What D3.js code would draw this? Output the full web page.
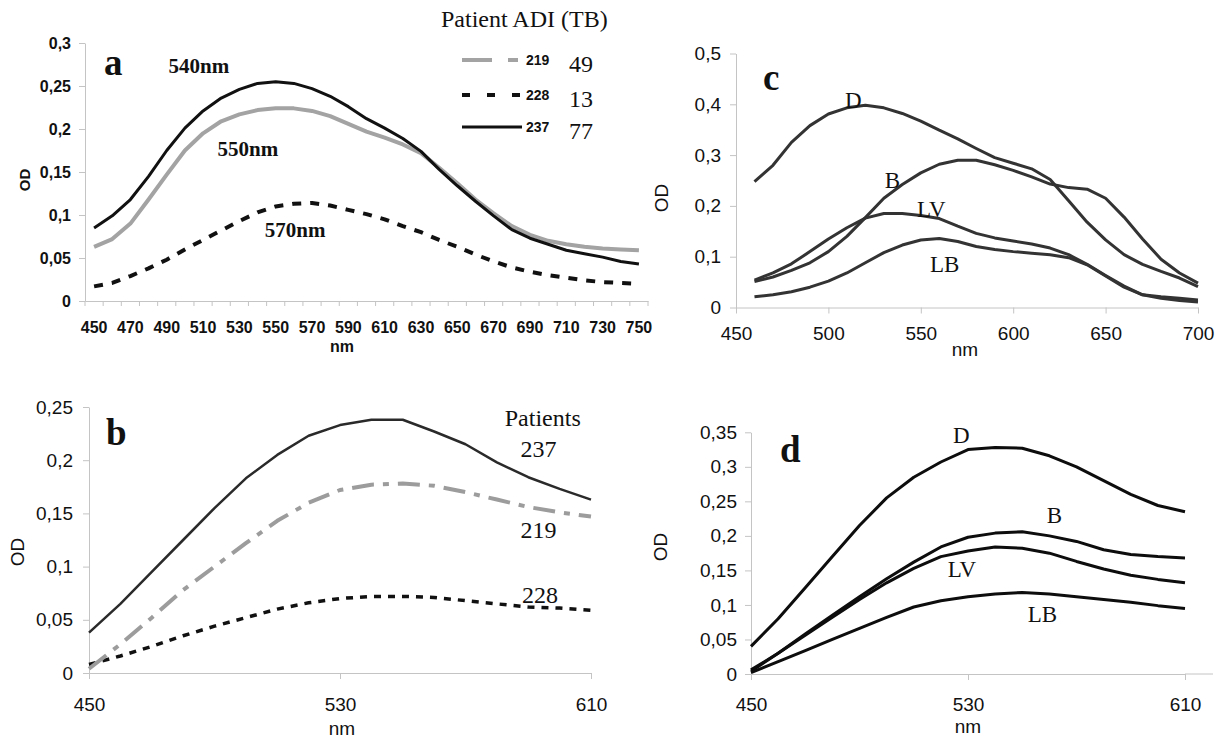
<!DOCTYPE html>
<html>
<head>
<meta charset="utf-8">
<style>
  body { margin: 0; background: #fff; }
</style>
</head>
<body>
<script src="https://cdn.jsdelivr.net/npm/d3@7"></script>
<script>
// ---- panel a : patients, 450-750 nm, every 10 nm
var nmA   = [450,460,470,480,490,500,510,520,530,540,550,560,570,580,590,600,610,620,630,640,650,660,670,680,690,700,710,720,730,740,750];
var a237  = [.085,.099,.118,.145,.175,.201,.221,.236,.246,.253,.255,.253,.247,.238,.226,.212,.201,.189,.174,.153,.134,.116,.099,.083,.073,.066,.059,.055,.051,.046,.043];
var a219  = [.063,.072,.090,.118,.147,.175,.195,.209,.217,.222,.224,.224,.221,.215,.206,.197,.190,.182,.172,.155,.137,.118,.102,.087,.077,.070,.066,.063,.061,.060,.059];
var a228  = [.017,.021,.029,.038,.048,.060,.071,.082,.093,.103,.110,.113,.114,.111,.106,.101,.095,.087,.080,.071,.063,.054,.046,.039,.034,.030,.027,.024,.022,.021,.020];
var patients = ["219","228","237"];
var adi      = [49, 13, 77];
var peaks    = ["540nm","550nm","570nm"];

// ---- panel b : patients, 450-610 nm
var nmB  = [450,460,470,480,490,500,510,520,530,540,550,560,570,580,590,600,610];
var b237 = [.038,.065,.095,.125,.155,.183,.205,.223,.233,.238,.238,.227,.215,.198,.184,.173,.163];
var b219 = [.004,.027,.052,.078,.100,.122,.143,.160,.172,.177,.178,.176,.170,.163,.156,.151,.147];
var b228 = [.008,.016,.025,.035,.044,.052,.060,.066,.070,.072,.072,.071,.068,.065,.062,.061,.059];

// ---- panel c : tissues, 460-700 nm
var nmC  = [460,470,480,490,500,510,520,530,540,550,560,570,580,590,600,610,620,630,640,650,660,670,680,690,700];
var cD   = [.248,.280,.325,.358,.381,.393,.398,.393,.382,.367,.349,.332,.313,.295,.284,.273,.252,.210,.168,.133,.104,.085,.071,.058,.041];
var cB   = [.051,.060,.073,.088,.110,.140,.177,.215,.242,.265,.282,.290,.290,.281,.270,.257,.243,.236,.233,.215,.178,.135,.095,.068,.048];
var cLV  = [.054,.068,.086,.110,.135,.157,.176,.185,.185,.181,.175,.160,.146,.137,.131,.125,.117,.104,.085,.063,.042,.025,.021,.018,.015];
var cLB  = [.021,.025,.031,.040,.052,.068,.088,.108,.123,.133,.136,.130,.120,.114,.110,.107,.104,.098,.084,.062,.040,.025,.018,.014,.011];

// ---- panel d : tissues, 450-610 nm
var nmD  = [450,460,470,480,490,500,510,520,530,540,550,560,570,580,590,600,610];
var dD   = [.040,.080,.125,.170,.215,.255,.285,.307,.325,.328,.327,.316,.300,.280,.260,.244,.235];
var dB   = [.004,.030,.058,.085,.112,.138,.162,.184,.198,.204,.206,.200,.192,.180,.173,.170,.168];
var dLV  = [.006,.030,.056,.082,.108,.132,.153,.170,.178,.184,.182,.175,.163,.152,.143,.137,.132];
var dLB  = [.002,.018,.034,.050,.066,.082,.097,.106,.112,.116,.118,.116,.112,.108,.104,.099,.095];
var tissues = ["D","B","LV","LB"];

var SANS = "'Liberation Sans', Arial, sans-serif";
var SERIF = "'Liberation Serif', 'Times New Roman', serif";
var AX = "#c4c4c4";

var fmt = d3.formatLocale({decimal: ",", thousands: " ", grouping: [3], currency: ["", ""]}).format("~g");

var svg = d3.select("body").append("svg")
    .attr("width", 1226)
    .attr("height", 746)
    .style("background", "#fff");

function styleAxis(g, size, weight) {
  g.select(".domain").attr("stroke", AX);
  g.selectAll(".tick line").attr("stroke", AX);
  g.selectAll(".tick text")
    .attr("font-family", SANS)
    .attr("font-size", size)
    .attr("font-weight", weight)
    .attr("fill", "#111");
}

function txt(x, y, s, font, size, weight, anchor) {
  return svg.append("text")
    .attr("x", x).attr("y", y)
    .attr("font-family", font)
    .attr("font-size", size)
    .attr("font-weight", weight || "normal")
    .attr("text-anchor", anchor || "start")
    .attr("fill", "#111")
    .text(s);
}

function yTitle(x, y, size, weight) {
  svg.append("text")
    .attr("transform", "translate(" + x + "," + y + ") rotate(-90)")
    .attr("dy", "0.35em")
    .attr("text-anchor", "middle")
    .attr("font-family", SANS)
    .attr("font-size", size)
    .attr("font-weight", weight)
    .attr("fill", "#111")
    .text("OD");
}

function drawLine(xs, ys, x, y, stroke, width, dash) {
  var line = d3.line().x(function(d, i) { return x(xs[i]); }).y(function(d) { return y(d); });
  svg.append("path")
    .datum(ys)
    .attr("fill", "none")
    .attr("stroke", stroke)
    .attr("stroke-width", width)
    .attr("stroke-linejoin", "round")
    .attr("stroke-dasharray", dash || null)
    .attr("d", line);
}

// ================= panel a =================
var xa = d3.scaleBand().domain(nmA).range([85, 648]);
var xaMid = function(d) { return xa(d) + xa.bandwidth() / 2; };
var xaLin = d3.scaleLinear().domain([450, 750]).range([xaMid(450), xaMid(750)]);
var ya = d3.scaleLinear().domain([0, 0.3]).range([301, 43]);

svg.append("g").attr("transform", "translate(85,0)")
  .call(d3.axisLeft(ya).tickValues([0, .05, .1, .15, .2, .25, .3]).tickSize(6).tickSizeOuter(0).tickPadding(8).tickFormat(fmt))
  .call(styleAxis, 16, "bold");

svg.append("g").attr("transform", "translate(0,301)")
  .call(d3.axisBottom(xa).tickSize(0).tickPadding(21)
        .tickFormat(function(d) { return (d - 450) % 20 === 0 ? d : ""; }))
  .call(styleAxis, 16, "bold");

svg.append("g").selectAll("line")
  .data(nmA.map(function(d) { return xa(d); }).concat([xa.range()[1]]))
  .join("line")
  .attr("x1", function(d) { return d; }).attr("x2", function(d) { return d; })
  .attr("y1", 301).attr("y2", 306)
  .attr("stroke", AX);

drawLine(nmA, a219, xaMid, ya, "#a3a3a3", 4);
drawLine(nmA, a228, xaMid, ya, "#111", 4, "9,9");
drawLine(nmA, a237, xaMid, ya, "#111", 3);

yTitle(25, 180, 15, "bold");
txt(342, 352, "nm", SANS, 16, "bold", "middle");
txt(104, 75, "a", SERIF, 37, "bold");

txt(xaLin(491), ya(0.265), peaks[0], SERIF, 21, "bold");
txt(xaLin(518), ya(0.169), peaks[1], SERIF, 21, "bold");
txt(xaLin(544), ya(0.074), peaks[2], SERIF, 21, "bold");

// legend
txt(441, 27, "Patient ADI (TB)", SERIF, 24, "normal");
var legStyle = [
  {stroke: "#a3a3a3", w: 4, dash: "30,16,10"},
  {stroke: "#111", w: 4, dash: "8,17"},
  {stroke: "#111", w: 3, dash: null}
];
var legY = [60, 95, 127];
patients.forEach(function(p, i) {
  svg.append("line")
    .attr("x1", 462).attr("x2", 522).attr("y1", legY[i]).attr("y2", legY[i])
    .attr("stroke", legStyle[i].stroke).attr("stroke-width", legStyle[i].w)
    .attr("stroke-dasharray", legStyle[i].dash);
  txt(526, legY[i] + 5, p, SANS, 14, "bold");
  txt(569, legY[i] + 12, adi[i], SERIF, 24, "normal");
});

// ================= panel b =================
var xb = d3.scaleLinear().domain([450, 610]).range([89, 591]);
var yb = d3.scaleLinear().domain([0, 0.25]).range([673, 407]);

svg.append("g").attr("transform", "translate(89,0)")
  .call(d3.axisLeft(yb).tickValues([0, .05, .1, .15, .2, .25]).tickSize(6).tickSizeOuter(0).tickPadding(10).tickFormat(fmt))
  .call(styleAxis, 19, "normal");
svg.append("g").attr("transform", "translate(0,673)")
  .call(d3.axisBottom(xb).tickValues([450, 530, 610]).tickSize(6).tickSizeOuter(0).tickPadding(19).tickFormat(d3.format("d")))
  .call(styleAxis, 19, "normal");

drawLine(nmB, b228, xb, yb, "#111", 3.5, "7,7");
drawLine(nmB, b219, xb, yb, "#9c9c9c", 4, "22,9,6,9");
drawLine(nmB, b237, xb, yb, "#2a2a2a", 2.5);

yTitle(17, 552, 19, "normal");
txt(342, 735, "nm", SANS, 19, "normal", "middle");
txt(106, 445, "b", SERIF, 37, "bold");
txt(xb(582.5), yb(0.232), "Patients", SERIF, 24, "normal");
txt(xb(587.5), yb(0.203), patients[2], SERIF, 24, "normal");
txt(xb(587.5), yb(0.127), patients[0], SERIF, 24, "normal");
txt(xb(588), yb(0.066), patients[1], SERIF, 24, "normal");

// ================= panel c =================
var xc = d3.scaleLinear().domain([450, 700]).range([736, 1198]);
var yc = d3.scaleLinear().domain([0, 0.5]).range([307.5, 53.5]);

svg.append("g").attr("transform", "translate(736,0)")
  .call(d3.axisLeft(yc).tickValues([0, .1, .2, .3, .4, .5]).tickSize(6).tickSizeOuter(0).tickPadding(9).tickFormat(fmt))
  .call(styleAxis, 19, "normal");
svg.append("g").attr("transform", "translate(0,307.5)")
  .call(d3.axisBottom(xc).tickValues([450, 500, 550, 600, 650, 700]).tickSize(6).tickSizeOuter(0).tickPadding(13).tickFormat(d3.format("d")))
  .call(styleAxis, 19, "normal");

[cD, cB, cLV, cLB].forEach(function(s) { drawLine(nmC, s, xc, yc, "#333", 3); });

yTitle(661, 198, 19, "normal");
txt(965, 356, "nm", SANS, 19, "normal", "middle");
txt(763, 90, "c", SERIF, 37, "bold");
txt(xc(509), yc(0.393), tissues[0], SERIF, 23, "normal");
txt(xc(530.5), yc(0.235), tissues[1], SERIF, 23, "normal");
txt(xc(548), yc(0.178), tissues[2], SERIF, 23, "normal");
txt(xc(555), yc(0.070), tissues[3], SERIF, 23, "normal");

// ================= panel d =================
var xd = d3.scaleLinear().domain([450, 610]).range([751, 1185]);
var yd = d3.scaleLinear().domain([0, 0.35]).range([674, 432.3]);

svg.append("g").attr("transform", "translate(751,0)")
  .call(d3.axisLeft(yd).tickValues([0, .05, .1, .15, .2, .25, .3, .35]).tickSize(6).tickSizeOuter(0).tickPadding(8).tickFormat(fmt))
  .call(styleAxis, 19, "normal");
svg.append("g").attr("transform", "translate(0,674)")
  .call(d3.axisBottom(xd).tickValues([450, 530, 610]).tickSize(6).tickSizeOuter(0).tickPadding(18).tickFormat(d3.format("d")))
  .call(styleAxis, 19, "normal");
// Excel axis runs a bit past the last tick
svg.append("line")
  .attr("x1", xd(610)).attr("x2", xd(610) + 28).attr("y1", 674).attr("y2", 674)
  .attr("stroke", AX);

[dD, dB, dLV, dLB].forEach(function(s) { drawLine(nmD, s, xd, yd, "#0d0d0d", 3); });

yTitle(660, 547, 19, "normal");
txt(968, 733, "nm", SANS, 19, "normal", "middle");
txt(780, 462, "d", SERIF, 37, "bold");
txt(xd(524.5), yd(0.334), tissues[0], SERIF, 23, "normal");
txt(xd(559), yd(0.219), tissues[1], SERIF, 23, "normal");
txt(xd(522.5), yd(0.140), tissues[2], SERIF, 23, "normal");
txt(xd(552), yd(0.075), tissues[3], SERIF, 23, "normal");
</script>
</body>
</html>
